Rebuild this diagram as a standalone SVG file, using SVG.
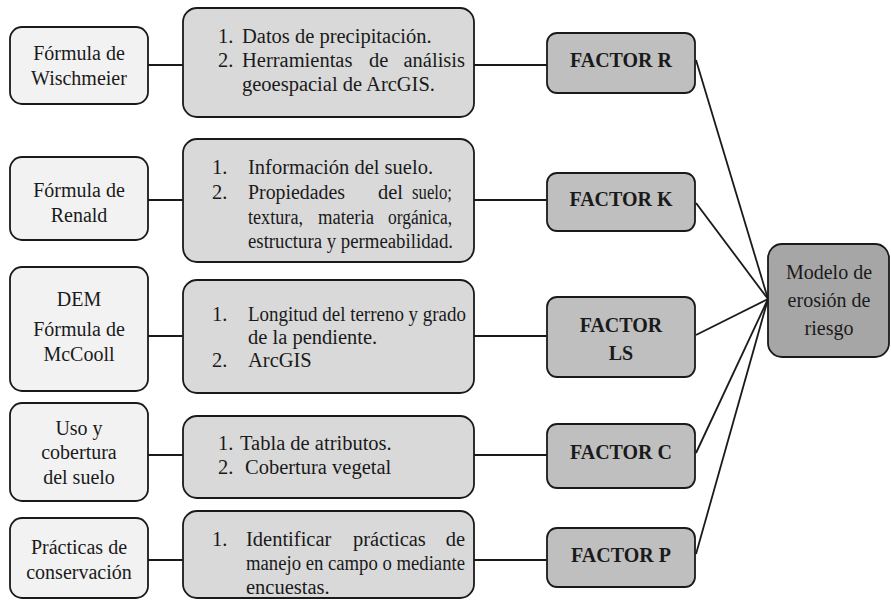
<svg xmlns="http://www.w3.org/2000/svg" width="891" height="601" viewBox="0 0 891 601">
<style>
text{font-family:"Liberation Serif","Times New Roman",serif;font-size:20px;fill:#1a1a1a}
.t{font-size:20.5px}
.c{text-anchor:middle}
.e{text-anchor:end}
.b{font-weight:bold}
.bx{stroke:#1a1a1a;stroke-width:1.8}
.l{fill:#f2f2f2}
.m{fill:#d9d9d9}
.f{fill:#bfbfbf}
.g{fill:#a6a6a6}
#connectors line{stroke:#1a1a1a;stroke-width:1.8}
</style>
<rect width="891" height="601" fill="#fff"/>
<g id="connectors">
<line x1="148" y1="65" x2="183" y2="65"/>
<line x1="474" y1="65" x2="547" y2="65"/>
<line x1="148" y1="200" x2="183" y2="200"/>
<line x1="474" y1="200" x2="547" y2="200"/>
<line x1="148" y1="336" x2="183" y2="336"/>
<line x1="474" y1="336" x2="547" y2="336"/>
<line x1="148" y1="455" x2="183" y2="455"/>
<line x1="474" y1="455" x2="547" y2="455"/>
<line x1="148" y1="560" x2="183" y2="560"/>
<line x1="474" y1="560" x2="547" y2="560"/>
<line x1="696" y1="60" x2="768" y2="299"/>
<line x1="696" y1="203" x2="768" y2="299"/>
<line x1="696" y1="335" x2="768" y2="299"/>
<line x1="696" y1="453" x2="768" y2="299"/>
<line x1="696" y1="554" x2="768" y2="299"/>
</g>
<g id="src1"><rect class="bx l" x="10" y="27" width="138" height="77" rx="12"/>
<text class="c" x="79" y="60">Fórmula de</text><text class="c" x="79" y="85">Wischmeier</text></g>
<g id="src2"><rect class="bx l" x="10" y="157" width="138" height="83" rx="12"/>
<text class="c" x="79" y="197">Fórmula de</text><text class="c" x="79" y="222">Renald</text></g>
<g id="src3"><rect class="bx l" x="10" y="267" width="138" height="124" rx="12"/>
<text class="c" x="79" y="306">DEM</text><text class="c" x="79" y="336">Fórmula de</text><text class="c" x="79" y="361">McCooll</text></g>
<g id="src4"><rect class="bx l" x="10" y="403" width="138" height="98" rx="12"/>
<text class="c" x="79" y="435">Uso y</text><text class="c" x="79" y="459">cobertura</text><text class="c" x="79" y="484">del suelo</text></g>
<g id="src5"><rect class="bx l" x="10" y="518" width="138" height="80" rx="12"/>
<text class="c" x="79" y="554">Prácticas de</text><text class="c" x="79" y="579">conservación</text></g>

<g id="mid1"><rect class="bx m" x="183" y="8" width="291" height="109" rx="14"/>
<text class="t" x="218" y="43">1.</text><text class="t" x="242" y="43">Datos de precipitación.</text>
<text class="t" x="218" y="67">2.</text><text class="t" x="242" y="67">Herramientas</text><text class="t" x="369" y="67">de</text><text class="t e" x="465" y="67">análisis</text>
<text class="t" x="242" y="91">geoespacial de ArcGIS.</text></g>
<g id="mid2"><rect class="bx m" x="183" y="139" width="291" height="123" rx="14"/>
<text class="t" x="212" y="174">1.</text><text class="t" x="248" y="174">Información del suelo.</text>
<text class="t" x="212" y="199">2.</text><text class="t" x="248" y="199" textLength="97" lengthAdjust="spacingAndGlyphs">Propiedades</text><text class="t" x="378" y="199">del</text><text class="t" x="412" y="199" textLength="40" lengthAdjust="spacingAndGlyphs">suelo;</text>
<text class="t" x="248" y="224" textLength="55" lengthAdjust="spacingAndGlyphs">textura,</text><text class="t" x="318" y="224" textLength="56" lengthAdjust="spacingAndGlyphs">materia</text><text class="t" x="388" y="224" textLength="64" lengthAdjust="spacingAndGlyphs">orgánica,</text>
<text class="t" x="248" y="248" textLength="205" lengthAdjust="spacingAndGlyphs">estructura y permeabilidad.</text></g>
<g id="mid3"><rect class="bx m" x="183" y="280" width="291" height="113" rx="14"/>
<text class="t" x="212" y="321">1.</text><text class="t" x="248" y="321" textLength="218" lengthAdjust="spacingAndGlyphs">Longitud del terreno y grado</text>
<text class="t" x="248" y="344">de la pendiente.</text>
<text class="t" x="212" y="367">2.</text><text class="t" x="248" y="367">ArcGIS</text></g>
<g id="mid4"><rect class="bx m" x="183" y="416" width="291" height="82" rx="14"/>
<text class="t" x="218" y="450">1.</text><text class="t" x="240" y="450">Tabla de atributos.</text>
<text class="t" x="218" y="474">2.</text><text class="t" x="245" y="474">Cobertura vegetal</text></g>
<g id="mid5"><rect class="bx m" x="183" y="511" width="291" height="87" rx="14"/>
<text class="t" x="212" y="546">1.</text><text class="t" x="246" y="546">Identificar</text><text class="t" x="353" y="546">prácticas</text><text class="t e" x="465" y="546">de</text>
<text class="t" x="246" y="570" textLength="219" lengthAdjust="spacingAndGlyphs">manejo en campo o mediante</text>
<text class="t" x="246" y="594">encuestas.</text></g>

<g id="factorR"><rect class="bx f" x="547" y="33" width="148" height="60" rx="10"/>
<text class="c b" x="621" y="67">FACTOR R</text></g>
<g id="factorK"><rect class="bx f" x="547" y="173" width="148" height="58" rx="10"/>
<text class="c b" x="621" y="206">FACTOR K</text></g>
<g id="factorLS"><rect class="bx f" x="547" y="297" width="148" height="80" rx="10"/>
<text class="c b" x="621" y="332">FACTOR</text><text class="c b" x="621" y="360">LS</text></g>
<g id="factorC"><rect class="bx f" x="547" y="424" width="148" height="64" rx="10"/>
<text class="c b" x="621" y="459">FACTOR C</text></g>
<g id="factorP"><rect class="bx f" x="547" y="528" width="148" height="59" rx="10"/>
<text class="c b" x="621" y="562">FACTOR P</text></g>
<g id="model"><rect class="bx g" x="768" y="244" width="121" height="113" rx="14"/>
<text class="c" x="829" y="279">Modelo de</text><text class="c" x="829" y="307">erosión de</text><text class="c" x="829" y="335">riesgo</text></g>
</svg>
